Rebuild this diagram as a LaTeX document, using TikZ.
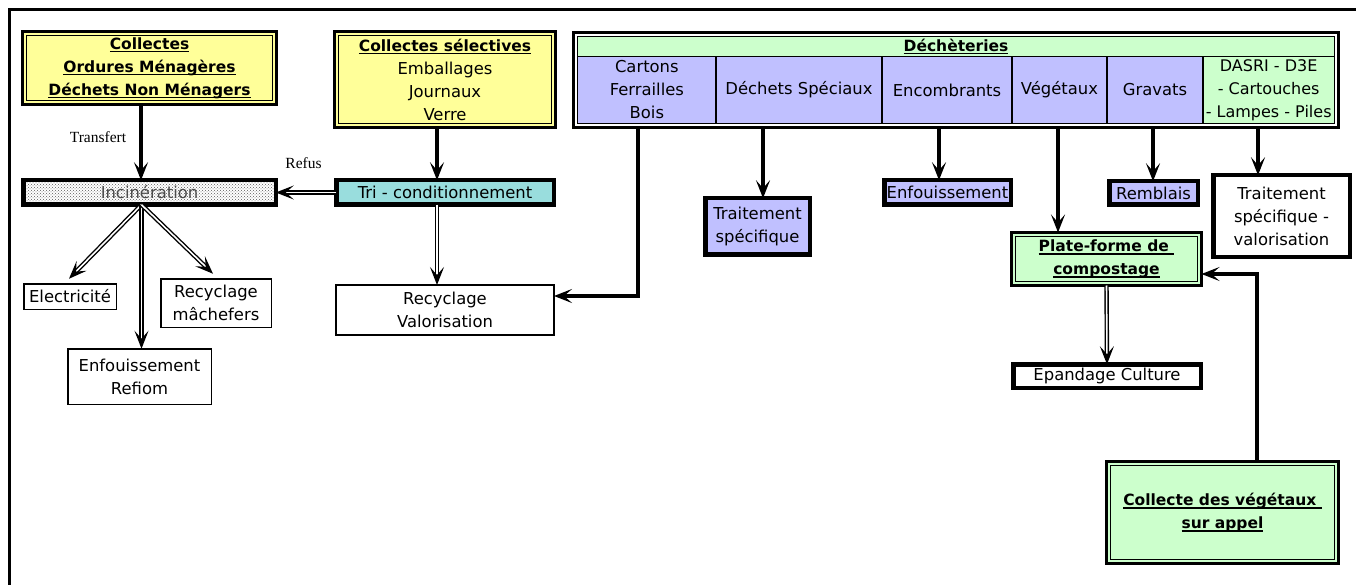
\documentclass[tikz,border=0pt]{standalone}
\usepackage{fontspec}
\setmainfont{DejaVu Sans}
\newfontfamily\serifl{Liberation Serif}
\usetikzlibrary{arrows.meta,patterns,calc}
\definecolor{cyel}{RGB}{255,255,153}
\definecolor{cgrn}{RGB}{204,255,204}
\definecolor{cblu}{RGB}{192,192,255}
\definecolor{ccya}{RGB}{153,221,221}
\newcommand\myul[1]{\setbox0\hbox{#1}\rlap{\rule[-3pt]{\wd0}{1.3pt}}\box0}
\begin{document}
\begin{tikzpicture}[x=1pt,y=-1pt,
  every node/.style={font=\fontsize{16.4}{23}\selectfont, align=center, inner sep=0pt, outer sep=0pt},
  boldtxt/.style={font=\fontsize{15.5}{23}\selectfont\bfseries},
  lbl/.style={font=\serifl\fontsize{15.5}{17}\selectfont},
  dblbox/.style={draw, line width=3pt},
  thickbox/.style={draw, line width=4.5pt},
  thinbox/.style={draw, line width=1.5pt, fill=white},
  cell/.style={draw, line width=1.3pt, minimum height=66.8pt},
  arr/.style={line width=4.5pt, -{Stealth[length=18pt,width=14pt,inset=8pt]}},
  darr/.style={double, double distance=1.6pt, line width=1.4pt, -{Stealth[length=18pt,width=14pt,inset=8pt]}},
  bx/.style 2 args={minimum width=#1pt, minimum height=#2pt}
]
\useasboundingbox (0,0) rectangle (1356,585);
\draw[line width=2.5pt, line join=miter] (9.5,585) -- (9.5,9.5) -- (1356,9.5);

% left column
\node[dblbox, fill=cyel, boldtxt, bx={254}{73}] (c1) at (149.5,68)
  {\myul{Collectes}\\\myul{Ordures Ménagères}\\\myul{Déchets Non Ménagers}};
\node[thickbox, pattern=crosshatch dots, pattern color=black!65, bx={252.5}{24.5}] (incin) at (149.5,192.5)
  {\textcolor{black!70}{Incinération}};
\node[thinbox, bx={92.5}{25.5}] (elec) at (70,296.5) {Electricité};
\node[thinbox, bx={143.5}{55.5}] (refiom) at (139.5,376.5) {Enfouissement\\Refiom};
\node[thinbox, bx={110.5}{48.5}] (mach) at (216,303) {Recyclage\\mâchefers};

% middle column
\node[dblbox, fill=cyel, bx={221}{96}] (c2) at (445,79.5)
  {\textbf{\fontsize{15.5}{23}\selectfont\myul{Collectes sélectives}}\\Emballages\\Journaux\\Verre};
\node[thickbox, fill=ccya, bx={217.5}{24.5}] (tri) at (445,192.5) {Tri - conditionnement};
\node[thinbox, bx={218}{50}] (recy) at (445,310) {Recyclage\\Valorisation};

% dechetteries
\node[dblbox, bx={765}{95}] (dech) at (956,80) {};
\node[draw, line width=1.3pt, fill=cgrn, boldtxt, bx={756.6}{19.8}] (head) at (956,46.6) {\myul{Déchèteries}};
\node[cell, fill=cblu, minimum width=138.3pt] (k1) at (646.85,89.9) {Cartons\\Ferrailles\\Bois};
\node[cell, fill=cblu, minimum width=166pt] (k2) at (799,89.9) {Déchets Spéciaux};
\node[cell, fill=cblu, minimum width=130pt] (k3) at (947,89.9) {Encombrants};
\node[cell, fill=cblu, minimum width=95pt] (k4) at (1059.5,89.9) {Végétaux};
\node[cell, fill=cblu, minimum width=96pt] (k5) at (1155,89.9) {Gravats};
\node[cell, fill=cgrn, minimum width=131.3pt, font=\fontsize{16}{23}\selectfont] (k6) at (1268.65,89.9) {DASRI - D3E\\- Cartouches\\- Lampes - Piles};

\node[thickbox, fill=cblu, bx={104.5}{56.5}] (ts) at (757.5,226.5) {Traitement\\spécifique};
\node[thickbox, fill=cblu, bx={126.5}{24.5}] (enf) at (947.5,192.5) {Enfouissement};
\node[thickbox, fill=cblu, bx={88.5}{23.5}] (remb) at (1153.5,193) {Remblais};
\node[thickbox, fill=white, bx={136.5}{81.5}] (tsv) at (1281.5,216) {Traitement\\spécifique -\\valorisation};
\node[dblbox, fill=cgrn, boldtxt, bx={190}{53}] (pf) at (1106.5,259)
  {\myul{Plate-forme de\ }\\\myul{compostage}};
\node[thickbox, fill=white, bx={187.5}{23.5}] (epan) at (1107,376) {Epandage Culture};
\node[dblbox, fill=cgrn, boldtxt, bx={232}{102}] (cv) at (1222.5,512.5)
  {\myul{Collecte des végétaux\ }\\\myul{sur appel}};

\foreach \n in {c1,c2,dech,pf,cv}
  \draw[line width=1.2pt] ([shift={(4.2,4.2)}]\n.north west) rectangle ([shift={(-4.2,-4.2)}]\n.south east);

% labels
\node[lbl] (lt) at (98,137) {Transfert};
\node[lbl] (lr) at (303.5,163) {Refus};

% connectors
\draw[arr] ([xshift=-8.5pt]c1.south) -- ([xshift=-8.5pt]incin.north);
\draw[arr] ([xshift=-8pt]c2.south) -- ([xshift=-8pt]tri.north);
\draw[darr] (tri.west) -- (incin.east);
\draw[darr] ([xshift=-8pt]tri.south) -- ([xshift=-8pt]recy.north);

\coordinate (io) at ([xshift=-8pt]incin.south);
\draw[darr] (io) -- ([xshift=-1pt,yshift=5pt]elec.north);
\draw[darr] (io) -- (io |- refiom.north);
\draw[darr] (io) -- ([xshift=-3pt,yshift=5pt]mach.north);

\coordinate (aC) at (638,127.5);
\coordinate (aDS) at (763,127.5);
\coordinate (aEn) at (939,127.5);
\coordinate (aVg) at (1058,127.5);
\coordinate (aGr) at (1153,127.5);
\coordinate (aDa) at (1258,127.5);
\draw[arr] (aC) |- ([yshift=14pt]recy.east);
\draw[arr] (aDS) -- (aDS |- ts.north);
\draw[arr] (aEn) -- (aEn |- enf.north);
\draw[arr] (aVg) -- (aVg |- pf.north);
\draw[arr] (aGr) -- (aGr |- remb.north);
\draw[arr] (aDa) -- (aDa |- tsv.north);
\draw[darr] (pf.south) -- (epan.north);
\draw[arr] ([xshift=34.5pt]cv.north) |- ([yshift=-15pt]pf.east);
\end{tikzpicture}
\end{document}
